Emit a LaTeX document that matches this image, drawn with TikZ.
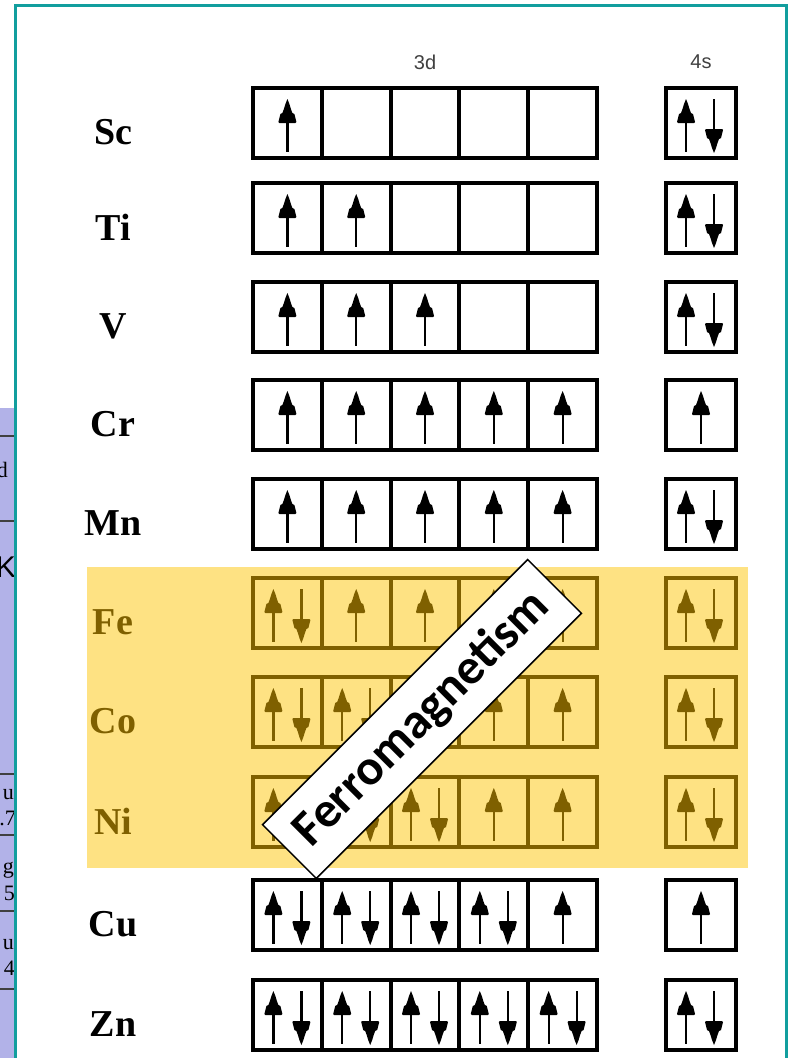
\documentclass[tikz,border=0pt]{standalone}
\usepackage{fontspec}
\setmainfont{Liberation Serif}
\newfontfamily\shellfont{Liberation Sans}
\newfontfamily\bannerfont{Carlito}
\usetikzlibrary{positioning}

\definecolor{frameteal}{RGB}{18,158,158}
\definecolor{ferrogold}{RGB}{127,96,0}
\definecolor{ferrofill}{RGB}{254,226,131}
\definecolor{tablelav}{RGB}{178,178,232}

\begin{document}
\begin{tikzpicture}[x=1pt, y=-1pt,
  cell/.style={draw, line width=4pt, minimum width=68.8pt, minimum height=70pt, inner sep=0pt},
  elem/.style={font=\bfseries\fontsize{38}{40}\selectfont, inner sep=0pt},
  shell/.style={font=\shellfont\fontsize{20}{22}\selectfont, text=black!75},
  strip/.style={font=\fontsize{22}{24}\selectfont, inner sep=0pt, anchor=east},
  banner/.style={draw, fill=white, line width=1.5pt, minimum width=375pt, minimum height=76pt, inner sep=0pt, font=\bannerfont\bfseries\fontsize{50}{52}\selectfont},
  spinup/.pic={
    \fill (0,-24) -- (2,-19) -- (3.5,-14) -- (5,-10) -- (7,-9) -- (8,-5) -- (9,-1) -- (8,0)
      -- (-8,0) -- (-9,-1) -- (-8,-5) -- (-7,-9) -- (-5,-10) -- (-3.5,-14) -- (-2,-19) -- cycle;
    \draw[line width=2.2pt] (0,-18) -- (0,29);
  },
  spindn/.pic={
    \fill (0,30) -- (2,25) -- (3.5,20) -- (5,16) -- (7,15) -- (8,11) -- (9,7) -- (8,6)
      -- (-8,6) -- (-9,7) -- (-8,11) -- (-7,15) -- (-5,16) -- (-3.5,20) -- (-2,25) -- cycle;
    \draw[line width=2.2pt] (0,-24) -- (0,24);
  },
]
\useasboundingbox (0,0) rectangle (789,1058);

% piece of the periodic table on the left
\fill[tablelav] (0,408) rectangle (14,1058);
\foreach \yy in {436,521,774,835,911,989}
  \draw[black!75, line width=1.5pt] (0,\yy) -- (14,\yy);
\begin{scope}
  \clip (0,408) rectangle (14,1058);
  \node[strip] (pt-d) at (8,470) {d};
  \node[strip, font=\shellfont\fontsize{30}{32}\selectfont] (pt-k) at (16,567) {K};
  \node[strip] (pt-u1) at (14,795) {u};
  \node[strip] (pt-m1) at (16,818) {.7};
  \node[strip] (pt-g) at (14,870) {g};
  \node[strip] (pt-m2) at (15,893) {5};
  \node[strip] (pt-u2) at (14,945) {u};
  \node[strip] (pt-m3) at (15,968) {4};
\end{scope}

% frame
\draw[frameteal, line width=3pt] (15,1058) -- (15,5) -- (786,5) -- (786,1058);

% highlighted ferromagnetic rows
\fill[ferrofill] (87,567) rectangle (748,868);

\node[shell] (head-d) at (425,62) {3d};
\node[shell] (head-s) at (701,62) {4s};

\foreach \el/\yy/\conf/\four/\col in {
    Sc/123/{1,0,0,0,0}/2/black, Ti/218/{1,1,0,0,0}/2/black,
    V/317/{1,1,1,0,0}/2/black, Cr/415/{1,1,1,1,1}/1/black,
    Mn/514/{1,1,1,1,1}/2/black, Fe/613/{2,1,1,1,1}/2/ferrogold,
    Co/712/{2,2,1,1,1}/2/ferrogold, Ni/812/{2,2,2,1,1}/2/ferrogold,
    Cu/915/{2,2,2,2,1}/1/black, Zn/1015/{2,2,2,2,2}/2/black}{
  \node[elem, text=\col] (\el) at (113,\yy+9) {\el};
  % 3d orbitals
  \foreach \c [count=\k] in \conf {
    \node[cell, draw=\col] (\el-d\k) at (218.6+68.8*\k,\yy) {};
    \ifnum\c=1 \pic[color=\col] at (\el-d\k) {spinup}; \fi
    \ifnum\c=2
      \pic[color=\col] at ([xshift=-14pt]\el-d\k.center) {spinup};
      \pic[color=\col] at ([xshift=14pt]\el-d\k.center) {spindn};
    \fi
  }
  % 4s orbital
  \node[cell, draw=\col, minimum width=70pt] (\el-s) at (701,\yy) {};
  \ifnum\four=1 \pic[color=\col] at (\el-s) {spinup}; \fi
  \ifnum\four=2
    \pic[color=\col] at ([xshift=-15pt]\el-s.center) {spinup};
    \pic[color=\col] at ([xshift=13pt]\el-s.center) {spindn};
  \fi
}

\node[banner, rotate=45] (ferro) at (422,719) {Ferromagnetism};
\end{tikzpicture}
\end{document}
